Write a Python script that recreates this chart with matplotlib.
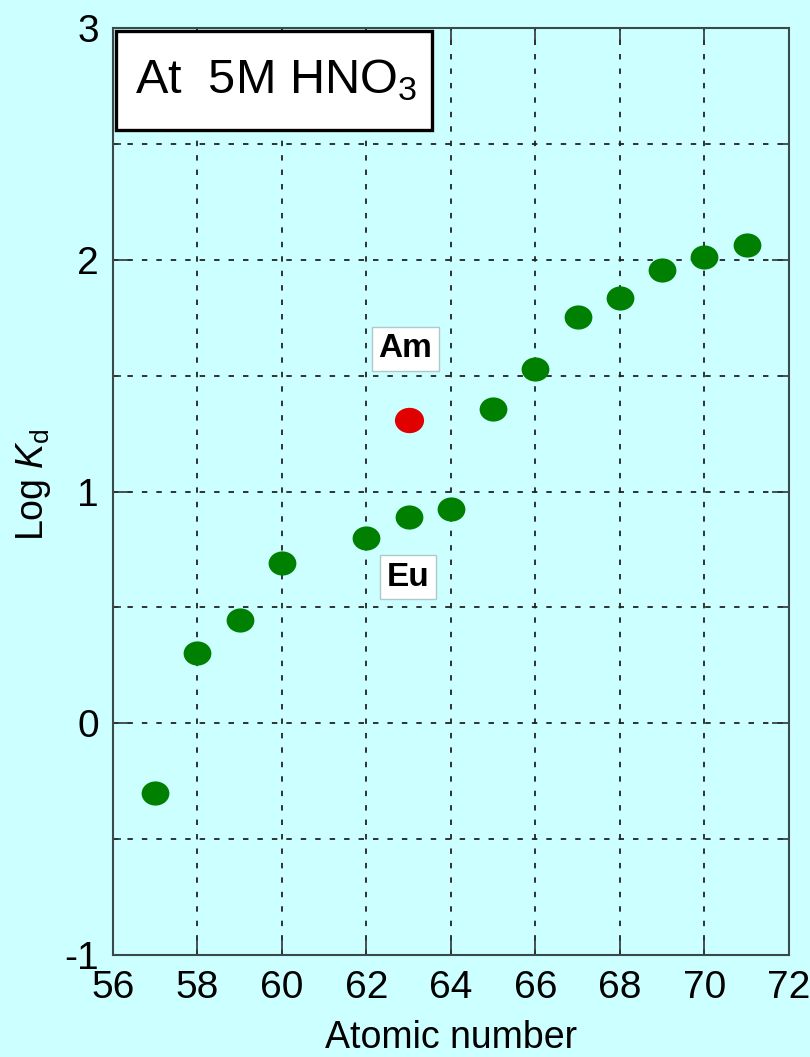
import matplotlib
matplotlib.use("Agg")
import matplotlib.pyplot as plt
from matplotlib.markers import MarkerStyle
from matplotlib.patches import Rectangle
from matplotlib.transforms import Affine2D
from matplotlib.ticker import MultipleLocator

# Lanthanide distribution coefficients (log Kd) vs atomic number
atomic_number = [57, 58, 59, 60, 62, 63, 64, 65, 66, 67, 68, 69, 70, 71]
log_kd = [-0.30, 0.305, 0.445, 0.69, 0.80, 0.89, 0.925, 1.355, 1.53, 1.755, 1.835, 1.955, 2.01, 2.065]

# Americium plotted at the position of Eu
am_x = [63]
am_log_kd = [1.31]

x_ticks = [56, 58, 60, 62, 64, 66, 68, 70, 72]
y_ticks = [-1, 0, 1, 2, 3]

FONT = ["Liberation Sans", "DejaVu Sans"]

plt.rcParams["font.family"] = FONT
plt.rcParams["axes.unicode_minus"] = False
plt.rcParams["mathtext.fontset"] = "custom"
plt.rcParams["mathtext.rm"] = "Liberation Sans"
plt.rcParams["mathtext.it"] = "Liberation Sans:italic"

bg = "#ccffff"
fig = plt.figure(figsize=(8.10, 10.57), dpi=100, facecolor=bg)
ax = fig.add_axes([0.1395, 0.0965, 0.8345, 0.877], facecolor=bg)

ellipse = MarkerStyle("o", transform=Affine2D().scale(1.0, 0.87))
ax.plot(atomic_number, log_kd, linestyle="none", marker=ellipse, markersize=20,
        color="#008000", markeredgewidth=0, zorder=3)
ax.plot(am_x, am_log_kd, linestyle="none", marker=ellipse, markersize=21,
        color="#e00000", markeredgewidth=0, zorder=3)

ax.set_xlim(56, 72)
ax.set_ylim(-1, 3)
ax.set_xticks(x_ticks)
ax.set_yticks(y_ticks)
ax.yaxis.set_minor_locator(MultipleLocator(0.5))

grid_style = dict(color="#222222", linestyle=(0, (3, 5)), linewidth=1.3)
ax.grid(True, which="major", **grid_style)
ax.grid(True, which="minor", axis="y", **grid_style)
ax.set_axisbelow(True)

ax.tick_params(which="major", direction="in", length=12, width=1.2,
               top=True, right=True, labelsize=28, color="#333333")
ax.tick_params(which="minor", direction="in", length=6, width=1.2,
               top=False, right=True, left=True, color="#333333")
ax.tick_params(axis="x", pad=11)
ax.tick_params(axis="y", pad=10)

for sp in ax.spines.values():
    sp.set_color("#3a4a4a")
    sp.set_linewidth(1.5)

ax.set_xlabel("Atomic number", fontsize=27, va="center")
ax.xaxis.set_label_coords(0.5, -0.089)
ax.set_ylabel(r"Log $\mathit{K}_{\rm d}$", fontsize=27, va="center")
ax.yaxis.set_label_coords(-0.118, 0.507)

# Condition box in the top-left corner
ax.add_patch(Rectangle((0.005, 0.89), 0.467, 0.107, transform=ax.transAxes,
                       facecolor="white", edgecolor="black", linewidth=2.4,
                       zorder=5, clip_on=False))
ax.text(0.032, 0.944, r"At  5M HNO$_3$", fontsize=35, transform=ax.transAxes,
        ha="left", va="center", zorder=6)

label_box = dict(boxstyle="square,pad=0.2", facecolor="white",
                 edgecolor="#b0c8c8", linewidth=1)
ax.text(62.92, 1.615, "Am", fontsize=24, fontweight="bold",
        ha="center", va="center", bbox=label_box, zorder=5)
ax.text(62.98, 0.63, "Eu", fontsize=24, fontweight="bold",
        ha="center", va="center", bbox=label_box, zorder=5)

fig.savefig("out.png", dpi=100, facecolor=bg)
